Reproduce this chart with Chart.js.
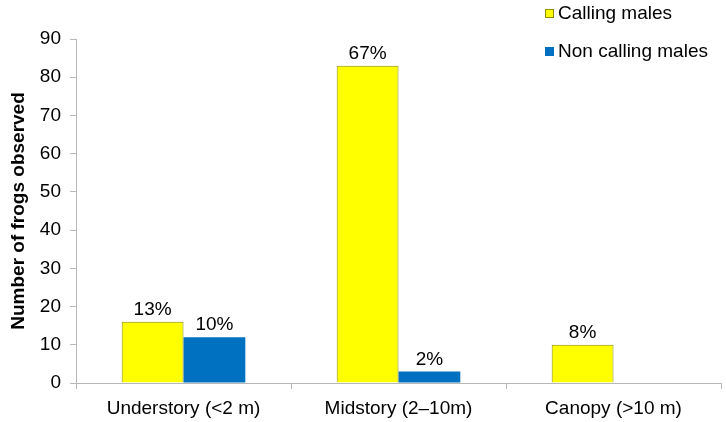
<!DOCTYPE html>
<html lang="en">
<head>
    <meta charset="UTF-8">
    <title>Frogs observed by forest stratum</title>
    <script src="https://cdn.jsdelivr.net/npm/chart.js@4.4.0/dist/chart.umd.min.js"></script>
    <style>
        body {
            margin: 0;
            background: #fff;
            font-family: "Liberation Sans", Arial, sans-serif;
        }
        #wrap {
            position: relative;
            width: 726px;
            height: 422px;
        }
        #legend {
            position: absolute;
            left: 545px;
            top: 0;
            font-size: 19px;
            color: #000;
        }
        .item {
            position: absolute;
            white-space: nowrap;
            line-height: 20px;
        }
        .box {
            display: inline-block;
            width: 7px;
            height: 7px;
            margin-right: 4px;
            vertical-align: 1px;
        }
    </style>
</head>
<body>
    <div id="wrap">
        <canvas id="chart" width="726" height="422"></canvas>
        <div id="legend"></div>
    </div>

    <script>
        // data
        const categories = ['Understory (<2 m)', 'Midstory (2\u201310m)', 'Canopy (>10 m)'];
        const seriesNames = ['Calling males', 'Non calling males'];
        const callingMales = [16, 83, 10];
        const nonCallingMales = [12, 3, 0];
        const callingPct = ['13%', '67%', '8%'];
        const nonCallingPct = ['10%', '2%', null];
        const yTicks = [0, 10, 20, 30, 40, 50, 60, 70, 80, 90];

        const fillColors = ['#ffff00', '#0070c0'];
        const borderColors = ['#8f8d00', '#0070c0'];
        const axisColor = '#b8b8b8';
        const fontFamily = '"Liberation Sans", Arial, sans-serif';

        // legend in html, top right
        const legend = document.getElementById('legend');
        seriesNames.forEach((name, i) => {
            const el = document.createElement('div');
            el.className = 'item';
            el.style.top = (i === 0 ? 3 : 41) + 'px';
            el.innerHTML = '<span class="box" style="background:' + fillColors[i] +
                ';border:1px solid ' + borderColors[i] + '"></span>' + name;
            legend.appendChild(el);
        });

        // percentages above bars
        const pctLabels = {
            id: 'pctLabels',
            afterDatasetsDraw(chart) {
                const ctx = chart.ctx;
                const lists = [callingPct, nonCallingPct];
                ctx.save();
                ctx.font = '19px ' + fontFamily;
                ctx.fillStyle = '#000';
                ctx.textAlign = 'center';
                ctx.textBaseline = 'alphabetic';
                chart.data.datasets.forEach((ds, di) => {
                    chart.getDatasetMeta(di).data.forEach((bar, i) => {
                        const txt = lists[di][i];
                        if (!txt) return;
                        ctx.fillText(txt, bar.x, bar.y - 7);
                    });
                });
                ctx.restore();
            }
        };

        new Chart(document.getElementById('chart'), {
            type: 'bar',
            data: {
                labels: categories,
                datasets: [{
                    label: seriesNames[0],
                    data: callingMales,
                    backgroundColor: fillColors[0],
                    borderColor: borderColors[0],
                    borderWidth: 1
                }, {
                    label: seriesNames[1],
                    data: nonCallingMales,
                    backgroundColor: fillColors[1],
                    borderColor: borderColors[1],
                    borderWidth: 0
                }]
            },
            options: {
                responsive: false,
                animation: false,
                layout: { padding: { top: 39, right: 5, left: 0, bottom: 0 } },
                datasets: {
                    bar: { categoryPercentage: 0.575, barPercentage: 1 }
                },
                plugins: {
                    legend: { display: false },
                    tooltip: { enabled: false }
                },
                scales: {
                    x: {
                        grid: {
                            drawOnChartArea: false,
                            drawTicks: true,
                            tickLength: 6,
                            color: axisColor
                        },
                        border: { color: axisColor },
                        ticks: {
                            color: '#000',
                            padding: 8,
                            maxRotation: 0,
                            font: { family: fontFamily, size: 19 }
                        },
                        afterFit(scale) { scale.height = 39; }
                    },
                    y: {
                        min: 0,
                        max: 90,
                        afterBuildTicks(scale) {
                            scale.ticks = yTicks.map(v => ({ value: v }));
                        },
                        grid: {
                            drawOnChartArea: false,
                            drawTicks: true,
                            tickLength: 6,
                            color: axisColor
                        },
                        border: { color: axisColor },
                        ticks: {
                            color: '#000',
                            padding: 9,
                            font: { family: fontFamily, size: 19 }
                        },
                        title: {
                            display: true,
                            text: 'Number of frogs observed',
                            color: '#000',
                            padding: { top: 7, bottom: 0 },
                            font: { family: fontFamily, size: 19, weight: 'bold' }
                        },
                        afterFit(scale) { scale.width = 76; }
                    }
                }
            },
            plugins: [pctLabels]
        });
    </script>
</body>
</html>
